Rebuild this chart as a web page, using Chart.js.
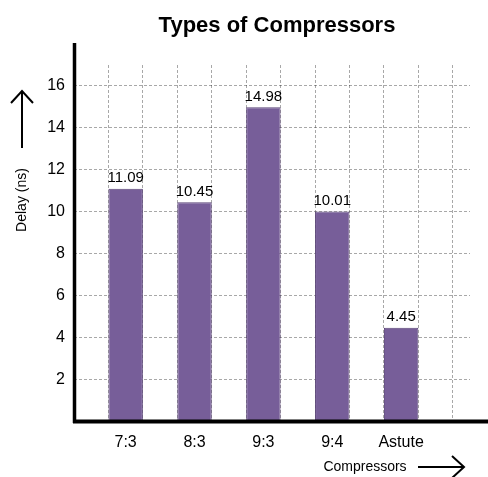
<!DOCTYPE html>
<html>
<head>
<meta charset="utf-8">
<script src="https://cdn.jsdelivr.net/npm/chart.js@4/dist/chart.umd.min.js"></script>
<style>
  html, body { margin: 0; padding: 0; background: #fff; }
  #wrap { width: 488px; height: 477px; }
</style>
</head>
<body>
<div id="wrap"><canvas id="c" width="488" height="477"></canvas></div>
<script>
// Delay of each compressor type (ns)
const categories = ['7:3', '8:3', '9:3', '9:4', 'Astute'];
const delays = [11.09, 10.45, 14.98, 10.01, 4.45];
const yTickValues = [2, 4, 6, 8, 10, 12, 14, 16];
const chartTitle = 'Types of Compressors';
const yTitle = 'Delay (ns)';
const xTitle = 'Compressors';

const FONT = "'Liberation Sans', Arial, sans-serif";
const GRID = 'rgba(0,0,0,0.34)';

// category i sits at x = i + 1; dashed verticals fall on the bar edges
const catPositions = categories.map((_, i) => i + 1);
const vGridPositions = [];
for (let i = 0; i <= categories.length; i++) {
  vGridPositions.push(i + 0.75);
  if (i < categories.length) vGridPositions.push(i + 1.25);
}
const xTickValues = Array.from(new Set(catPositions.concat(vGridPositions))).sort((a, b) => a - b);

const decorations = {
  id: 'decorations',
  afterDraw(chart) {
    const ctx = chart.ctx;
    const a = chart.chartArea;
    ctx.save();
    ctx.strokeStyle = '#000';
    ctx.fillStyle = '#000';

    // value labels above each bar
    const meta = chart.getDatasetMeta(0);
    ctx.font = '15px ' + FONT;
    ctx.textAlign = 'center';
    ctx.textBaseline = 'bottom';
    meta.data.forEach((bar, i) => {
      ctx.fillText(delays[i].toFixed(2), bar.x, bar.y - 3);
    });

    // thick axis lines
    ctx.lineWidth = 3.5;
    ctx.beginPath();
    ctx.moveTo(a.left + 0.5, 43);
    ctx.lineTo(a.left + 0.5, a.bottom + 2);
    ctx.stroke();
    ctx.lineWidth = 4;
    ctx.beginPath();
    ctx.moveTo(a.left - 1, a.bottom + 0.5);
    ctx.lineTo(chart.width, a.bottom + 0.5);
    ctx.stroke();

    // title
    ctx.font = 'bold 22px ' + FONT;
    ctx.textAlign = 'center';
    ctx.textBaseline = 'middle';
    ctx.fillText(chartTitle, (a.left + a.right) / 2 + 5, 26);

    // y axis title with upward arrow
    ctx.save();
    ctx.translate(22, 200);
    ctx.rotate(-Math.PI / 2);
    ctx.font = '14px ' + FONT;
    ctx.fillText(yTitle, 0, 0);
    ctx.restore();
    ctx.lineWidth = 2;
    ctx.beginPath();
    ctx.moveTo(22, 148);
    ctx.lineTo(22, 91);
    ctx.moveTo(11, 103);
    ctx.lineTo(22, 91);
    ctx.lineTo(33, 103);
    ctx.stroke();

    // x axis title with rightward arrow
    ctx.font = '14px ' + FONT;
    ctx.textAlign = 'center';
    ctx.fillText(xTitle, 365, 467);
    ctx.beginPath();
    ctx.moveTo(418, 467);
    ctx.lineTo(464, 467);
    ctx.moveTo(452, 456);
    ctx.lineTo(464, 467);
    ctx.lineTo(452, 478);
    ctx.stroke();
    ctx.restore();
  }
};

new Chart(document.getElementById('c'), {
  type: 'bar',
  data: {
    datasets: [{
      data: delays.map((v, i) => ({ x: catPositions[i], y: v })),
      backgroundColor: '#775e99',
      borderColor: '#5a4478',
      borderWidth: 1,
      categoryPercentage: 1,
      // ruler spacing is the 0.25 tick step, so 2 gives a half-unit bar
      barPercentage: 2
    }]
  },
  options: {
    responsive: false,
    animation: false,
    layout: { padding: { top: 65, right: 18, bottom: 0, left: 0 } },
    plugins: { legend: { display: false }, tooltip: { enabled: false }, title: { display: false } },
    scales: {
      x: {
        type: 'linear',
        z: 1,
        offset: false,
        min: 0.25,
        max: 6,
        afterBuildTicks(scale) { scale.ticks = xTickValues.map(v => ({ value: v })); },
        afterFit(scale) { scale.height = 56; },
        grid: {
          offset: false,
          drawTicks: false,
          color: ctx => (ctx.tick && Number.isInteger(ctx.tick.value)) ? 'rgba(0,0,0,0)' : GRID,
          lineWidth: 1
        },
        border: { display: false, dash: [3, 2] },
        ticks: {
          autoSkip: false,
          maxRotation: 0,
          padding: 12,
          color: '#000',
          font: { family: FONT, size: 16 },
          callback: v => Number.isInteger(v) ? categories[v - 1] : ''
        }
      },
      y: {
        z: 1,
        min: 0,
        max: 17,
        afterBuildTicks(scale) { scale.ticks = yTickValues.map(v => ({ value: v })); },
        afterFit(scale) { scale.width = 74; },
        grid: { drawTicks: false, color: GRID, lineWidth: 1 },
        border: { display: false, dash: [3, 2] },
        ticks: {
          padding: 9,
          color: '#000',
          font: { family: FONT, size: 16 }
        }
      }
    }
  },
  plugins: [decorations]
});
</script>
</body>
</html>
